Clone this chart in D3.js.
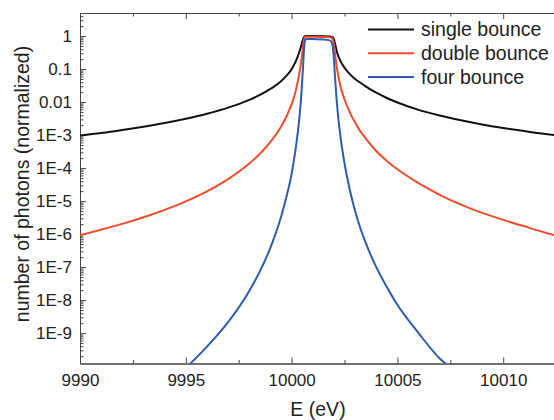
<!DOCTYPE html>
<html>
<head>
<meta charset="utf-8">
<script src="https://cdn.jsdelivr.net/npm/d3@7"></script>
<style>
  body { margin: 0; background: #fff; }
  svg { display: block; font-family: "Liberation Sans", Arial, sans-serif; }
  .axis path, .axis line { stroke: #444; stroke-width: 1; }
  .axis text { fill: #222; font-size: 17px; font-family: "Liberation Sans", Arial, sans-serif; }
</style>
</head>
<body>
<svg id="graph" width="554" height="420"></svg>
<script>
// photon energy (eV)
const energy = [
  9990, 9991, 9992, 9993, 9994, 9995, 9996, 9997, 9998, 9998.5,
  9999, 9999.5, 9999.75, 10000, 10000.1, 10000.2, 10000.35, 10000.45, 10000.52, 10000.56,
  10000.6, 10000.65, 10000.75, 10001, 10001.5, 10001.8, 10001.9, 10001.95, 10002, 10002.05,
  10002.15, 10002.3, 10002.5, 10002.75, 10003, 10003.25, 10003.5, 10004, 10004.5, 10005,
  10006, 10007, 10008, 10009, 10010, 10011, 10012, 10012.5,
];
const singleBounce = [
  9.7e-4, 1.16e-3, 1.43e-3, 1.8e-3, 2.33e-3, 3.14e-3, 4.45e-3, 6.8e-3, 1.17e-2, 1.65e-2,
  2.5e-2, 4.3e-2, 6.2e-2, 0.098, 0.13, 0.175, 0.31, 0.5, 0.72, 0.86,
  0.96, 1.0, 1.0, 1.0, 0.99, 0.97, 0.95, 0.92, 0.8, 0.6,
  0.32, 0.18, 0.11, 0.07, 0.05, 0.0385, 0.03, 0.0192, 0.0133, 9.7e-3,
  5.8e-3, 3.9e-3, 2.8e-3, 2.1e-3, 1.64e-3, 1.32e-3, 1.08e-3, 9.9e-4,
];
const doubleBounce = [
  9.3e-7, 1.36e-6, 2.04e-6, 3.24e-6, 5.43e-6, 9.86e-6, 1.98e-5, 4.64e-5, 1.38e-4, 2.72e-4,
  6.25e-4, 1.8e-3, 3.6e-3, 8.5e-3, 1.3e-2, 2.3e-2, 6.5e-2, 0.16, 0.36, 0.62,
  0.85, 0.95, 0.96, 0.96, 0.94, 0.92, 0.88, 0.78, 0.55, 0.3,
  0.1, 3.2e-2, 1.2e-2, 4.9e-3, 2.4e-3, 1.3e-3, 8.0e-4, 3.3e-4, 1.65e-4, 9.2e-5,
  3.5e-5, 1.55e-5, 7.8e-6, 4.4e-6, 2.7e-6, 1.72e-6, 1.1e-6, 9.0e-7,
];
const fourBounce = [
  8.7e-13, 1.84e-12, 4.16e-12, 1.05e-11, 2.95e-11, 9.0e-11, 3.9e-10, 2.15e-9, 1.89e-8, 7.4e-8,
  3.9e-7, 3.3e-6, 1.3e-5, 6.7e-5, 1.6e-4, 4.2e-4, 2.6e-3, 1.4e-2, 7.0e-2, 0.2,
  0.5, 0.78, 0.82, 0.81, 0.79, 0.74, 0.62, 0.45, 0.2, 6.0e-2,
  8.0e-3, 1.0e-3, 1.4e-4, 2.2e-5, 5.0e-6, 1.5e-6, 5.5e-7, 1.0e-7, 2.5e-8, 7.2e-9,
  1.0e-9, 1.7e-10, 5.5e-11, 1.8e-11, 6.8e-12, 2.8e-12, 1.3e-12, 9.0e-13,
];

const seriesNames = [ "single bounce", "double bounce", "four bounce" ];
const seriesColors = [ "#111111", "#f04c2c", "#2c5cb0" ];

const xTicks = [ 9990, 9995, 10000, 10005, 10010 ];
const xMinorTicks = [ 9992.5, 9997.5, 10002.5, 10007.5 ];
const yTicks = [ 1, 0.1, 0.01, 1e-3, 1e-4, 1e-5, 1e-6, 1e-7, 1e-8, 1e-9 ];
const yTickLabels = [ "1", "0.1", "0.01", "1E-3", "1E-4", "1E-5", "1E-6", "1E-7", "1E-8", "1E-9" ];

const WIDTH = 554;
const HEIGHT = 420;
const MARGINS = {
  top   : 13,
  right : 0,
  bottom: 56.5,
  left  : 80,
};

const graph = d3.select( "#graph" );

const xRange = d3.scaleLinear()
  .domain( [ 9990, 10012.4 ] )
  .range( [ MARGINS.left, WIDTH - MARGINS.right ] );
const yRange = d3.scaleLog()
  .domain( [ 1.2e-10, 5 ] )
  .range( [ HEIGHT - MARGINS.bottom, MARGINS.top ] );

// minor log ticks: 2..9 of every decade inside the domain
const yMinorTicks = [];
for ( let e = -10; e <= 0; e++ ) {
  for ( let k = 2; k <= 9; k++ ) {
    const v = k * Math.pow( 10, e );
    if ( v > yRange.domain()[0] && v < yRange.domain()[1] ) yMinorTicks.push( v );
  }
}

const xAxis = d3.axisBottom( xRange ).tickValues( xTicks ).tickFormat( d3.format( "d" ) )
  .tickSizeInner( -6 ).tickSizeOuter( 0 ).tickPadding( 10 );
const xMinor = d3.axisBottom( xRange ).tickValues( xMinorTicks ).tickFormat( "" )
  .tickSizeInner( -3.5 ).tickSizeOuter( 0 );
const xTop = d3.axisTop( xRange ).tickValues( xTicks ).tickFormat( "" )
  .tickSizeInner( -6 ).tickSizeOuter( 0 );
const xTopMinor = d3.axisTop( xRange ).tickValues( xMinorTicks ).tickFormat( "" )
  .tickSizeInner( -3.5 ).tickSizeOuter( 0 );
const yAxis = d3.axisLeft( yRange ).tickValues( yTicks ).tickFormat( ( d, i ) => yTickLabels[i] )
  .tickSizeInner( -6 ).tickSizeOuter( 0 ).tickPadding( 8 );
const yMinor = d3.axisLeft( yRange ).tickValues( yMinorTicks ).tickFormat( "" )
  .tickSizeInner( -3.5 ).tickSizeOuter( 0 );

graph.append( "g" )
  .attr( "class", "x axis" )
  .attr( "transform", `translate(0,${HEIGHT - MARGINS.bottom})` )
  .call( xAxis );
graph.append( "g" )
  .attr( "class", "x axis" )
  .attr( "transform", `translate(0,${HEIGHT - MARGINS.bottom})` )
  .call( xMinor );
graph.append( "g" )
  .attr( "class", "x axis" )
  .attr( "transform", `translate(0,${MARGINS.top})` )
  .call( xTop );
graph.append( "g" )
  .attr( "class", "x axis" )
  .attr( "transform", `translate(0,${MARGINS.top})` )
  .call( xTopMinor );
graph.append( "g" )
  .attr( "class", "y axis" )
  .attr( "transform", `translate(${MARGINS.left},0)` )
  .call( yAxis );
graph.append( "g" )
  .attr( "class", "y axis" )
  .attr( "transform", `translate(${MARGINS.left},0)` )
  .call( yMinor );

// axis titles
graph.append( "text" )
  .attr( "x", 318 )
  .attr( "y", 415.5 )
  .attr( "text-anchor", "middle" )
  .attr( "fill", "#222" )
  .style( "font-size", "19.5px" )
  .text( "E (eV)" );
graph.append( "text" )
  .attr( "transform", "translate(29,184) rotate(-90)" )
  .attr( "text-anchor", "middle" )
  .attr( "fill", "#222" )
  .style( "font-size", "19.5px" )
  .text( "number of photons (normalized)" );

graph.append( "clipPath" )
  .attr( "id", "plot-clip" )
  .append( "rect" )
  .attr( "x", MARGINS.left )
  .attr( "y", MARGINS.top )
  .attr( "width", WIDTH - MARGINS.left - MARGINS.right )
  .attr( "height", HEIGHT - MARGINS.top - MARGINS.bottom );

const lineFunc = d3.line()
  .x( d => xRange( d.x ) )
  .y( d => yRange( d.y ) )
  .curve( d3.curveMonotoneX );

[ singleBounce, doubleBounce, fourBounce ].forEach( ( values, i ) => {
  const data = energy.map( ( e, j ) => ( { x: e, y: values[j] } ) );
  graph.append( "path" )
    .attr( "clip-path", "url(#plot-clip)" )
    .attr( "d", lineFunc( data ) )
    .attr( "stroke", seriesColors[i] )
    .attr( "stroke-width", 2 )
    .attr( "stroke-linejoin", "round" )
    .attr( "fill", "none" );
} );

// legend
const legend = graph.append( "g" );
seriesNames.forEach( ( name, i ) => {
  const y = 29.5 + i * 23.8;
  legend.append( "line" )
    .attr( "x1", 368 )
    .attr( "x2", 414 )
    .attr( "y1", y )
    .attr( "y2", y )
    .attr( "stroke", seriesColors[i] )
    .attr( "stroke-width", 2 );
  legend.append( "text" )
    .attr( "x", 421 )
    .attr( "y", y + 6.8 )
    .attr( "fill", "#222" )
    .style( "font-size", "19.5px" )
    .text( name );
} );
</script>
</body>
</html>
